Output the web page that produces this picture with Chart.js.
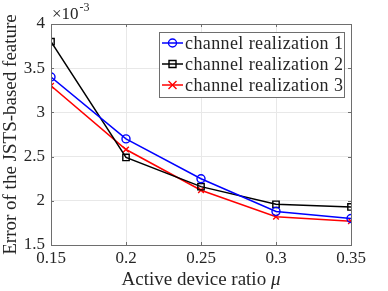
<!DOCTYPE html>
<html>
<head>
<meta charset="utf-8">
<script src="https://cdn.jsdelivr.net/npm/chart.js"></script>
<style>
	html, body { margin: 0; padding: 0; background: #fff; }
	#wrap { width: 388px; height: 291px; }
</style>
</head>
<body>
<div id="wrap"><canvas id="chart" width="388" height="291"></canvas></div>
<script>
// Active device ratio (x) and error values (x 10^-3)
const ratios = [0.15, 0.2, 0.25, 0.3, 0.35];
const realization1 = [3.40, 2.70, 2.25, 1.88, 1.80];
const realization2 = [3.80, 2.49, 2.16, 1.96, 1.93];
const realization3 = [3.30, 2.58, 2.12, 1.82, 1.77];
const seriesLabels = ['channel realization 1', 'channel realization 2', 'channel realization 3'];
const yTicks = [1.5, 2, 2.5, 3, 3.5, 4];

const FONT = '"Liberation Serif", "DejaVu Serif", serif';

function toPoints(values) {
	return ratios.map((x, i) => ({ x: x, y: values[i] }));
}

// Draws a small marker the same way in the legend as on the chart
function drawMarker(ctx, style, x, y, color) {
	ctx.save();
	ctx.strokeStyle = color;
	ctx.lineWidth = 1.4;
	ctx.beginPath();
	if (style === 'circle') {
		ctx.arc(x, y, 4, 0, Math.PI * 2);
	} else if (style === 'rect') {
		ctx.rect(x - 3.5, y - 3.5, 7, 7);
	} else {
		ctx.moveTo(x - 4, y - 4); ctx.lineTo(x + 4, y + 4);
		ctx.moveTo(x - 4, y + 4); ctx.lineTo(x + 4, y - 4);
	}
	ctx.stroke();
	ctx.restore();
}

// Axis titles, exponent label, box with inward ticks and legend
const decorations = {
	id: 'decorations',
	afterDraw(chart) {
		const ctx = chart.ctx;
		const area = chart.chartArea;
		const xs = chart.scales.x, ys = chart.scales.y;
		ctx.save();

		// frame around the plot
		ctx.strokeStyle = '#6e6e6e';
		ctx.lineWidth = 1;
		ctx.strokeRect(area.left + 0.5, area.top + 0.5, area.right - area.left, area.bottom - area.top);

		// inward tick marks on all four sides
		ctx.beginPath();
		ratios.forEach(v => {
			const px = Math.round(xs.getPixelForValue(v)) + 0.5;
			ctx.moveTo(px, area.bottom); ctx.lineTo(px, area.bottom - 3);
			ctx.moveTo(px, area.top); ctx.lineTo(px, area.top + 3);
		});
		yTicks.forEach(v => {
			const py = Math.round(ys.getPixelForValue(v)) + 0.5;
			ctx.moveTo(area.left, py); ctx.lineTo(area.left + 3, py);
			ctx.moveTo(area.right, py); ctx.lineTo(area.right - 3, py);
		});
		ctx.stroke();

		ctx.fillStyle = '#262626';
		// exponent
		ctx.font = '17px ' + FONT;
		ctx.textBaseline = 'alphabetic';
		ctx.textAlign = 'left';
		ctx.fillText('\u00d710', area.left + 1, 19);
		const w = ctx.measureText('\u00d710').width;
		ctx.font = '12px ' + FONT;
		ctx.fillText('-3', area.left + 1 + w + 1, 11);

		// x title with italic mu
		ctx.font = '19px ' + FONT;
		const xt = 'Active device ratio ';
		const xtw = ctx.measureText(xt).width;
		ctx.font = 'italic 19px ' + FONT;
		const muw = ctx.measureText('\u03bc').width;
		const cx = (area.left + area.right) / 2;
		const sx = cx - (xtw + muw) / 2;
		ctx.font = '19px ' + FONT;
		ctx.fillText(xt, sx, 285);
		ctx.font = 'italic 19px ' + FONT;
		ctx.fillText('\u03bc', sx + xtw, 285);

		// y title
		ctx.font = '19px ' + FONT;
		ctx.translate(16, (area.top + area.bottom) / 2);
		ctx.rotate(-Math.PI / 2);
		ctx.textAlign = 'center';
		ctx.fillText('Error of the JSTS-based feature', 0, 0);
		ctx.restore();

		// legend box
		ctx.save();
		const lx = 159, ly = 32, lw = 185, lh = 65;
		ctx.fillStyle = '#fff';
		ctx.fillRect(lx, ly, lw, lh);
		ctx.strokeStyle = '#6e6e6e';
		ctx.lineWidth = 1;
		ctx.strokeRect(lx + 0.5, ly + 0.5, lw, lh);
		ctx.font = '18px ' + FONT;
		ctx.letterSpacing = '0.4px';
		ctx.textBaseline = 'middle';
		ctx.textAlign = 'left';
		chart.data.datasets.forEach((ds, i) => {
			const y = ly + 11 + i * 21;
			ctx.strokeStyle = ds.borderColor;
			ctx.lineWidth = 1.5;
			ctx.beginPath();
			ctx.moveTo(lx + 3, y);
			ctx.lineTo(lx + 24, y);
			ctx.stroke();
			drawMarker(ctx, ds.pointStyle, lx + 13.5, y, ds.borderColor);
			ctx.fillStyle = '#262626';
			ctx.fillText(ds.label, lx + 26, y + 1);
		});
		ctx.restore();
	}
};

const colors = ['#0000ff', '#000000', '#ff0000'];
const styles = ['circle', 'rect', 'crossRot'];
const seriesData = [realization1, realization2, realization3];

new Chart(document.getElementById('chart'), {
	type: 'line',
	data: {
		datasets: seriesData.map((vals, i) => ({
			label: seriesLabels[i],
			data: toPoints(vals),
			borderColor: colors[i],
			backgroundColor: 'rgba(0,0,0,0)',
			borderWidth: 1.5,
			pointStyle: styles[i],
			pointRadius: i === 1 ? 4.5 : 4,
			pointBorderWidth: 1.4,
			pointBorderColor: colors[i],
			pointBackgroundColor: 'rgba(0,0,0,0)',
			tension: 0
		}))
	},
	options: {
		responsive: false,
		animation: false,
		devicePixelRatio: 1,
		layout: { padding: { top: 24, right: 37, left: 0, bottom: 0 } },
		plugins: {
			legend: { display: false },
			tooltip: { enabled: false }
		},
		scales: {
			x: {
				type: 'linear',
				min: 0.15,
				max: 0.35,
				afterBuildTicks(axis) { axis.ticks = ratios.map(v => ({ value: v })); },
				afterFit(axis) { axis.height = 46; },
				ticks: {
					color: '#262626',
					font: { family: FONT, size: 17 },
					padding: 3,
					maxRotation: 0,
					callback: v => String(v)
				},
				grid: { color: '#e8e8e8', drawTicks: false },
				border: { display: false }
			},
			y: {
				min: 1.5,
				max: 4,
				afterBuildTicks(axis) { axis.ticks = yTicks.map(v => ({ value: v })); },
				afterFit(axis) { axis.width = 51; },
				ticks: {
					color: '#262626',
					font: { family: FONT, size: 17 },
					padding: 6,
					callback: v => String(v)
				},
				grid: { color: '#e8e8e8', drawTicks: false },
				border: { display: false }
			}
		}
	},
	plugins: [decorations]
});
</script>
</body>
</html>
